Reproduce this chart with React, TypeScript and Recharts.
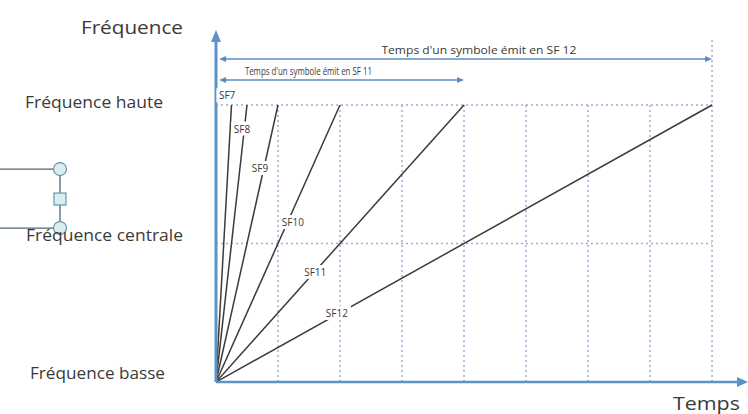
import React from 'react';
import { LineChart, Line, XAxis, YAxis, ReferenceLine, ReferenceDot } from 'recharts';

// ---- data ----
const sfNames = ['SF7', 'SF8', 'SF9', 'SF10', 'SF11', 'SF12'];
const symbolTimes = [0.25, 0.5, 1, 2, 4, 8]; // symbol duration (grid units)
const freqTicks = [0, 1, 2];
const freqLabels = ['Fréquence basse', 'Fréquence centrale', 'Fréquence haute'];
const timeGrid = [1, 2, 3, 4, 5, 6, 7, 8];
const freqGrid = [1, 2];
const spanNames = ["Temps d'un symbole émit en SF 11", "Temps d'un symbole émit en SF 12"];
const spanTimes = [4, 8];
const sfLabelT = [0.18, 0.42, 0.71, 1.24, 1.6, 1.95];
const sfLabelF = [2.07, 1.83, 1.545, 1.155, 0.794, 0.498];

const seriesData = symbolTimes.map((T) => [
  { t: 0, f: 0 },
  { t: T, f: 2 },
]);

// ---- layout / style ----
const W = 748;
const H = 414;
const X_MAX = 8.58;
const Y_MAX = 2.527;
const FONT = "'Open Sans', 'DejaVu Sans', sans-serif";
const AXIS = '#5b93c9';
const GRID = '#9aaed6';
const TXT = '#3a3a3a';
const LINE = '#3b3b3b';
const spanLevels = [2.18, 2.332];
const spanLabelPos = [
  { t: 1.49, f: 2.245, w: 127 },
  { t: 4.24, f: 2.397, w: 195 },
];
const tickStyle = [
  { x: 30, dy: -9, w: 135 },
  { x: 26, dy: -8, w: 157 },
  { x: 25, dy: -3, w: 138 },
];

const arrowShape =
  (color: string, width: number, hl: number, hw: number, both: boolean) =>
  (p: any) => {
    const { x1, y1, x2, y2 } = p;
    const dx = x2 - x1;
    const dy = y2 - y1;
    const len = Math.hypot(dx, dy) || 1;
    const ux = dx / len;
    const uy = dy / len;
    const px = -uy;
    const py = ux;
    const tri = (tx: number, ty: number, dx2: number, dy2: number) =>
      `${tx},${ty} ${tx - dx2 * hl + (px * hw) / 2},${ty - dy2 * hl + (py * hw) / 2} ${
        tx - dx2 * hl - (px * hw) / 2
      },${ty - dy2 * hl - (py * hw) / 2}`;
    const sx = both ? x1 + ux * (hl - 1) : x1;
    const sy = both ? y1 + uy * (hl - 1) : y1;
    return (
      <g>
        <line
          x1={sx}
          y1={sy}
          x2={x2 - ux * (hl - 1)}
          y2={y2 - uy * (hl - 1)}
          stroke={color}
          strokeWidth={width}
        />
        <polygon points={tri(x2, y2, ux, uy)} fill={color} />
        {both && <polygon points={tri(x1, y1, -ux, -uy)} fill={color} />}
      </g>
    );
  };

const FreqTick = (props: any) => {
  const { y, index } = props;
  const s = tickStyle[index];
  return (
    <text
      x={s.x}
      y={y + s.dy}
      dominantBaseline="central"
      fontFamily={FONT}
      fontSize={15.5}
      fill={TXT}
      textLength={s.w}
      lengthAdjust="spacingAndGlyphs"
    >
      {freqLabels[index]}
    </text>
  );
};

const Connector = (p: any) => {
  const { cx, cy } = p;
  return (
    <g>
      <line x1={cx - 62} y1={cy - 30} x2={cx - 6.5} y2={cy - 30} stroke="#4d6475" strokeWidth={1.3} />
      <line x1={cx - 62} y1={cy + 29} x2={cx - 6.5} y2={cy + 29} stroke="#4d6475" strokeWidth={1.3} />
      <line x1={cx} y1={cy - 23.5} x2={cx} y2={cy + 22.5} stroke="#4d6475" strokeWidth={1.3} />
      <circle cx={cx} cy={cy - 30} r={6.5} fill="#d9eef1" stroke="#6a95a8" strokeWidth={1.2} />
      <rect x={cx - 6} y={cy - 6} width={12} height={12} fill="#d9eef1" stroke="#6a95a8" strokeWidth={1.2} />
      <circle cx={cx} cy={cy + 29} r={6.5} fill="#d9eef1" stroke="#6a95a8" strokeWidth={1.2} />
    </g>
  );
};

export default function App() {
  return (
    <div style={{ position: 'absolute', left: 0, top: 0, width: W, height: H, background: '#fff' }}>
      <LineChart width={W} height={H} margin={{ top: 32, right: 0, bottom: 32, left: 0 }}>
        <XAxis type="number" dataKey="t" domain={[0, X_MAX]} allowDataOverflow hide />
        <YAxis
          type="number"
          dataKey="f"
          domain={[0, Y_MAX]}
          allowDataOverflow
          ticks={freqTicks}
          width={216}
          axisLine={false}
          tickLine={false}
          tick={<FreqTick />}
          interval={0}
        />

        {timeGrid.map((t, i) => (
          <ReferenceLine
            key={'vg' + i}
            segment={[
              { x: t, y: 0 },
              { x: t, y: t === 8 ? 2.47 : 2 },
            ]}
            stroke={GRID}
            strokeWidth={1.5}
            strokeDasharray="2 3"
            ifOverflow="visible"
          />
        ))}
        {freqGrid.map((f, i) => (
          <ReferenceLine
            key={'hg' + i}
            segment={[
              { x: 0, y: f },
              { x: 8, y: f },
            ]}
            stroke={GRID}
            strokeWidth={1.5}
            strokeDasharray="2 3"
            ifOverflow="visible"
          />
        ))}

        {seriesData.map((d, i) => (
          <Line
            key={sfNames[i]}
            data={d}
            dataKey="f"
            stroke={LINE}
            strokeWidth={1.5}
            dot={false}
            activeDot={false}
            isAnimationActive={false}
          />
        ))}

        {/* axes with arrows */}
        <ReferenceLine
          segment={[
            { x: 0, y: 0 },
            { x: 0, y: Y_MAX + 0.015 },
          ]}
          ifOverflow="visible"
          shape={arrowShape(AXIS, 3, 12, 10, false)}
        />
        <ReferenceLine
          segment={[
            { x: 0, y: 0 },
            { x: X_MAX, y: 0 },
          ]}
          ifOverflow="visible"
          shape={arrowShape(AXIS, 2.5, 11, 10, false)}
        />

        {/* symbol duration spans */}
        {spanTimes.map((T, i) => (
          <ReferenceLine
            key={'sp' + i}
            segment={[
              { x: 0.05, y: spanLevels[i] },
              { x: T, y: spanLevels[i] },
            ]}
            ifOverflow="visible"
            shape={arrowShape('#5a8cc4', 1.6, 7, 6, true)}
          />
        ))}
        {spanNames.map((name, i) => (
          <ReferenceDot
            key={'spl' + i}
            x={spanLabelPos[i].t}
            y={spanLabelPos[i].f}
            ifOverflow="visible"
            shape={(p: any) => (
              <text
                x={p.cx}
                y={p.cy}
                textAnchor="middle"
                dominantBaseline="central"
                fontFamily={FONT}
                fontSize={10.5}
                fill={TXT}
                textLength={spanLabelPos[i].w}
                lengthAdjust="spacingAndGlyphs"
              >
                {name}
              </text>
            )}
          />
        ))}

        {/* SF labels */}
        {sfNames.map((name, i) => (
          <ReferenceDot
            key={'sfl' + i}
            x={sfLabelT[i]}
            y={sfLabelF[i]}
            ifOverflow="visible"
            shape={(p: any) => {
              const w = name.length * 6.2 + 3;
              return (
                <g>
                  <rect x={p.cx - w / 2} y={p.cy - 7} width={w} height={14} fill="#fff" />
                  <text
                    x={p.cx}
                    y={p.cy}
                    textAnchor="middle"
                    dominantBaseline="central"
                    fontFamily={FONT}
                    fontSize={10}
                    fill={TXT}
                  >
                    {name}
                  </text>
                </g>
              );
            }}
          />
        ))}

        {/* titles */}
        <ReferenceDot
          x={-1.355}
          y={2.563}
          ifOverflow="visible"
          shape={(p: any) => (
            <text
              x={p.cx}
              y={p.cy}
              textAnchor="middle"
              dominantBaseline="central"
              fontFamily={FONT}
              fontSize={19}
              fill={TXT}
              textLength={102}
              lengthAdjust="spacingAndGlyphs"
            >
              Fréquence
            </text>
          )}
        />
        <ReferenceDot
          x={7.91}
          y={-0.152}
          ifOverflow="visible"
          shape={(p: any) => (
            <text
              x={p.cx}
              y={p.cy}
              textAnchor="middle"
              dominantBaseline="central"
              fontFamily={FONT}
              fontSize={18}
              fill={TXT}
              textLength={67}
              lengthAdjust="spacingAndGlyphs"
            >
              Temps
            </text>
          )}
        />

        {/* connector widget */}
        <ReferenceDot x={-2.516} y={1.321} ifOverflow="visible" shape={Connector} />
      </LineChart>
    </div>
  );
}
